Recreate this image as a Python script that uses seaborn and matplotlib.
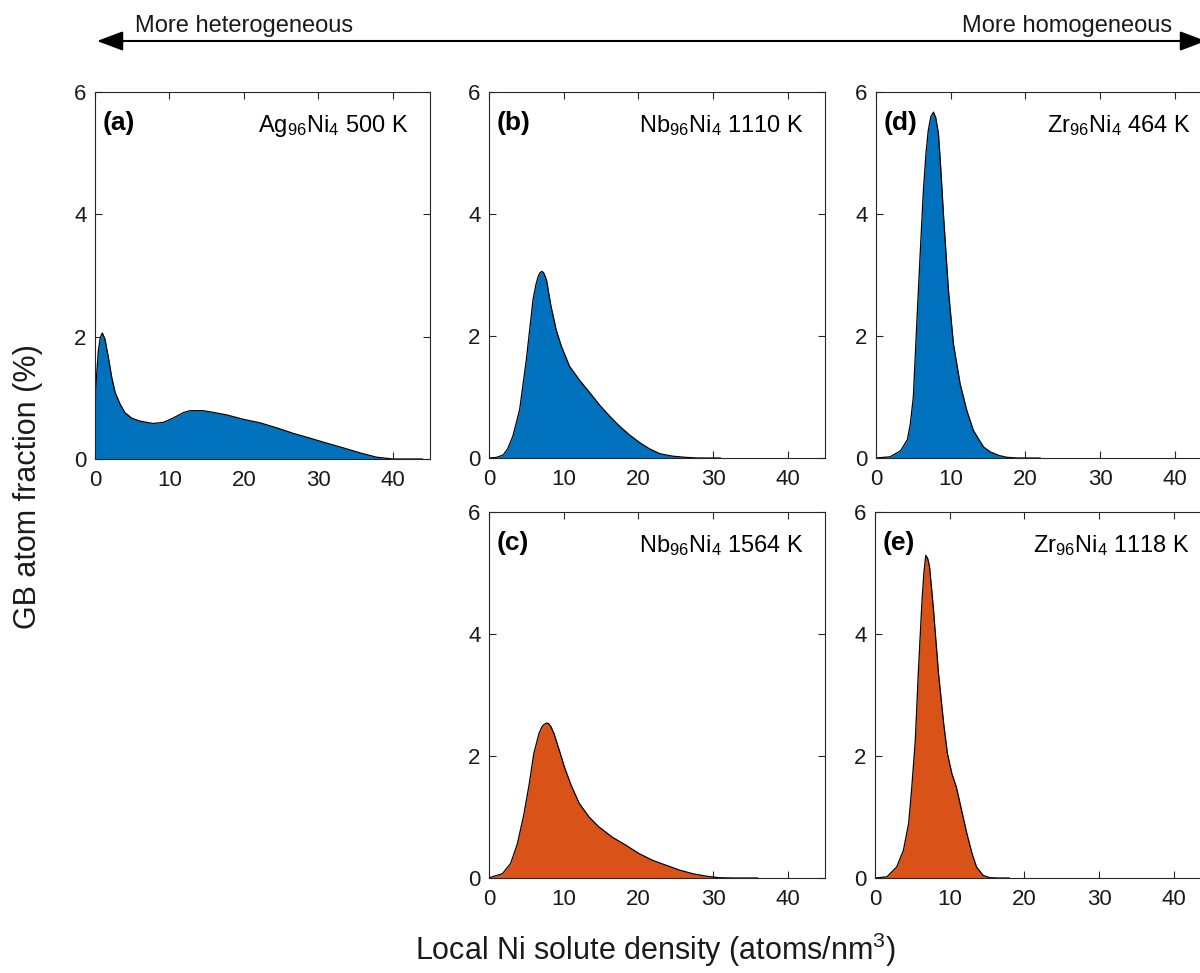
import numpy as np
import matplotlib
matplotlib.use("Agg")
import matplotlib.pyplot as plt
import seaborn as sns
from matplotlib.patches import FancyArrowPatch

# ---------------- data ----------------
a_x = [0.0, 0.2, 0.45, 0.7, 0.98, 1.34, 1.8, 2.24, 2.7, 3.36, 4.0, 4.9, 6.0, 7.8, 9.2, 10.5,
       11.9, 12.8, 14.5, 16.0, 17.7, 19.9, 22.2, 24.4, 26.6, 28.9, 31.1, 33.4,
       35.6, 37.8, 40.0, 42.0, 44.0]
a_y = [0.86, 1.35, 1.77, 1.98, 2.06, 1.96, 1.66, 1.34, 1.09, 0.90, 0.76, 0.67, 0.62, 0.58, 0.60, 0.67,
       0.76, 0.79, 0.79, 0.76, 0.72, 0.65, 0.59, 0.51, 0.42, 0.34, 0.26, 0.18,
       0.10, 0.03, 0.0, 0.0, 0.0]

b_x = [0.0, 1.0, 1.9, 2.5, 3.2, 4.1, 5.0, 5.4, 5.9, 6.3, 6.6, 6.85, 7.1, 7.35, 7.7, 8.3, 9.0,
       9.7, 10.8, 12.1, 13.5, 14.8, 16.2, 17.5, 18.8, 20.2, 21.5, 22.9, 24.6, 26.4, 28.0, 31.0]
b_y = [0.0, 0.01, 0.05, 0.15, 0.36, 0.79, 1.61, 2.05, 2.60, 2.85, 2.98, 3.04, 3.06, 3.03, 2.92,
       2.49, 2.10, 1.83, 1.50, 1.28, 1.07, 0.87, 0.68, 0.52, 0.38, 0.25, 0.15, 0.07, 0.03,
       0.01, 0.0, 0.0]

c_x = [0.0, 0.45, 1.8, 2.9, 3.8, 4.7, 5.4, 6.0, 6.7, 7.1, 7.4, 7.7, 8.0, 8.3, 8.7, 9.4, 10.1,
       11.0, 12.1, 13.4, 14.7, 16.5, 18.3, 20.1, 21.9, 23.7, 25.5, 27.3, 29.1, 30.8, 32.6, 36.0]
c_y = [0.0, 0.02, 0.07, 0.24, 0.56, 1.06, 1.55, 2.04, 2.37, 2.48, 2.52, 2.54, 2.53, 2.48, 2.37,
       2.10, 1.82, 1.52, 1.22, 1.00, 0.84, 0.67, 0.54, 0.40, 0.29, 0.21, 0.13, 0.07, 0.03,
       0.005, 0.0, 0.0]

d_x = [0.0, 1.9, 3.3, 4.2, 4.6, 5.0, 5.46, 5.9, 6.35, 6.7, 7.0, 7.35, 7.7, 8.0, 8.36, 8.7,
       9.03, 9.7, 10.37, 11.26, 12.16, 13.05, 14.4, 15.3, 16.5, 17.6, 19.0, 22.0]
d_y = [0.0, 0.02, 0.12, 0.30, 0.56, 1.00, 2.20, 3.30, 4.39, 5.00, 5.37, 5.60, 5.67, 5.58,
       5.32, 4.70, 4.00, 2.75, 1.87, 1.22, 0.78, 0.45, 0.18, 0.10, 0.04, 0.01, 0.0, 0.0]

e_x = [0.0, 1.6, 2.9, 3.8, 4.5, 4.9, 5.4, 5.8, 6.3, 6.55, 6.8, 7.05, 7.3, 7.8, 8.5, 9.2, 9.7,
       10.3, 10.9, 11.6, 12.3, 13.0, 13.6, 14.5, 15.4, 16.5, 18.0]
e_y = [0.0, 0.02, 0.18, 0.45, 0.89, 1.44, 2.26, 3.36, 4.56, 5.00, 5.29, 5.24, 5.11, 4.45,
       3.36, 2.53, 2.04, 1.71, 1.49, 1.11, 0.73, 0.40, 0.18, 0.04, 0.005, 0.0, 0.0]

panel_letters = ["(a)", "(b)", "(c)", "(d)", "(e)"]
panel_titles = [r"Ag$_{96}$Ni$_{4}$ 500 K", r"Nb$_{96}$Ni$_{4}$ 1110 K",
                r"Nb$_{96}$Ni$_{4}$ 1564 K", r"Zr$_{96}$Ni$_{4}$ 464 K",
                r"Zr$_{96}$Ni$_{4}$ 1118 K"]
x_ticks = [0, 10, 20, 30, 40]
y_ticks = [0, 2, 4, 6]
BLUE = "#0072BD"
ORANGE = "#D95319"

# ---------------- style ----------------
sns.set_theme(style="ticks")
plt.rcParams["font.family"] = ["Liberation Sans", "DejaVu Sans"]
plt.rcParams["mathtext.fontset"] = "custom"
plt.rcParams["mathtext.rm"] = "Liberation Sans"
plt.rcParams["mathtext.it"] = "Liberation Sans:italic"
plt.rcParams["mathtext.bf"] = "Liberation Sans:bold"

fig = plt.figure(figsize=(12, 9.73), dpi=100)
W, H = 1200, 973

def rect(l, t, r, b):
    return [l / W, 1 - b / H, (r - l) / W, (b - t) / H]

positions = {
    "(a)": rect(95, 92, 430, 459),
    "(b)": rect(489, 92, 825, 458),
    "(d)": rect(876, 92, 1212, 458),
    "(c)": rect(489, 512, 825, 878),
    "(e)": rect(875, 512, 1211, 878),
}
series = {
    "(a)": (a_x, a_y, BLUE, panel_titles[0]),
    "(b)": (b_x, b_y, BLUE, panel_titles[1]),
    "(c)": (c_x, c_y, ORANGE, panel_titles[2]),
    "(d)": (d_x, d_y, BLUE, panel_titles[3]),
    "(e)": (e_x, e_y, ORANGE, panel_titles[4]),
}

edge = "#262626"
for lab in panel_letters:
    xs, ys, col, title = series[lab]
    ax = fig.add_axes(positions[lab])
    ax.fill_between(xs, 0, ys, color=col, linewidth=0, zorder=1)
    sns.lineplot(x=xs, y=ys, ax=ax, color="black", linewidth=0.9, zorder=2,
                 sort=False, estimator=None)
    ax.set_xlim(0, 45)
    ax.set_ylim(0, 6)
    ax.set_xticks(x_ticks)
    ax.set_yticks(y_ticks)
    ax.tick_params(direction="in", length=5, width=0.8, colors=edge,
                   labelsize=16, top=True, right=True)
    ax.tick_params(axis="x", pad=8, labelcolor="#1a1a1a")
    ax.tick_params(axis="y", pad=6, labelcolor="#1a1a1a")
    for s in ax.spines.values():
        s.set_visible(True)
        s.set_color(edge)
        s.set_linewidth(0.8)
    ax.set_xlabel("")
    ax.set_ylabel("")
    ax.annotate(lab, xy=(0, 1), xycoords="axes fraction", xytext=(8, -38),
                textcoords="offset pixels", fontsize=19, fontweight="bold",
                ha="left", va="baseline", color="black")
    ax.annotate(title, xy=(1, 1), xycoords="axes fraction", xytext=(-21, -40),
                textcoords="offset pixels", fontsize=17,
                ha="right", va="baseline", color="black")

# axis labels
fig.text(28 / W, 1 - 487 / H, "GB atom fraction (%)", rotation=90,
         ha="center", va="center", fontsize=22, color="#1a1a1a")
fig.text(656 / W, 1 - 950 / H, r"Local Ni solute density (atoms/nm$^{3}$)",
         ha="center", va="center", fontsize=22, color="#1a1a1a")

# top arrow
y_arrow = 1 - 41 / H
arrow = FancyArrowPatch((97 / W, y_arrow), (1206 / W, y_arrow),
                        transform=fig.transFigure,
                        arrowstyle="<|-|>,head_length=16,head_width=6",
                        mutation_scale=1, linewidth=1.5, color="black",
                        shrinkA=0, shrinkB=0)
fig.patches.append(arrow)
fig.text(135 / W, 1 - 32 / H, "More heterogeneous", ha="left", va="baseline",
         fontsize=17, color="#1a1a1a")
fig.text(1172 / W, 1 - 32 / H, "More homogeneous", ha="right", va="baseline",
         fontsize=17, color="#1a1a1a")

fig.savefig("out.png", dpi=100)
